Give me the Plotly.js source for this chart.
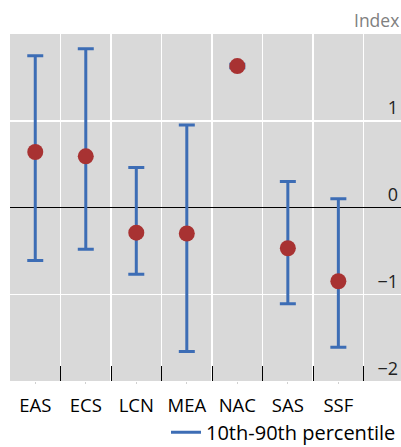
<!DOCTYPE html>
<html>
<head>
<meta charset="utf-8">
<script src="https://cdn.plot.ly/plotly-3.0.1.min.js"></script>
<style>
html,body{margin:0;padding:0;background:#fff;}
#chart{width:401px;height:447px;}
</style>
</head>
<body>
<div id="chart"></div>
<script>
const categories = ["EAS", "ECS", "LCN", "MEA", "NAC", "SAS", "SSF"];
const median = [0.64, 0.59, -0.29, -0.30, 1.63, -0.47, -0.85];
const p90 = [1.75, 1.83, 0.46, 0.95, 1.65, 0.30, 0.10];
const p10 = [-0.61, -0.48, -0.77, -1.66, 1.61, -1.11, -1.61];
const yTickVals = [-2, -1, 0, 1];
const yTickText = ["\u22122", "\u22121", "0", "1"];
const legendName = "10th-90th percentile";
const unitLabel = "Index";

const xPos = categories.map((c, i) => i);
const boundaries = [];
for (let i = 0; i <= categories.length; i++) boundaries.push(i - 0.5);

const blue = "#3d6db5";
const red = "#a83232";
const font = "Open Sans, Noto Sans, sans-serif";

const traces = [
  {
    x: xPos,
    y: median,
    type: "scatter",
    mode: "markers",
    marker: {color: red, size: 16},
    error_y: {
      type: "data",
      symmetric: false,
      array: p90.map((v, i) => v - median[i]),
      arrayminus: median.map((v, i) => v - p10[i]),
      color: blue,
      thickness: 3,
      width: 8
    },
    showlegend: false,
    hoverinfo: "skip"
  },
  {
    x: [null],
    y: [null],
    type: "scatter",
    mode: "lines",
    line: {color: blue, width: 3},
    name: legendName,
    xaxis: "x2"
  }
];

const layout = {
  width: 401,
  height: 447,
  margin: {l: 10, r: 0, t: 34, b: 66, autoexpand: false},
  paper_bgcolor: "#ffffff",
  plot_bgcolor: "#d9d9d9",
  font: {family: font, size: 16, color: "#000"},
  xaxis: {
    range: [-0.5, 7.24],
    tickmode: "array",
    tickvals: boundaries,
    ticktext: boundaries.map(() => ""),
    ticks: "inside",
    ticklen: 15,
    tickwidth: 1,
    tickcolor: "#000",
    showgrid: true,
    gridcolor: "#ffffff",
    gridwidth: 1.5,
    zeroline: false,
    showline: false,
    fixedrange: true
  },
  xaxis2: {
    overlaying: "x",
    matches: "x",
    side: "bottom",
    range: [-0.5, 7.24],
    tickmode: "array",
    tickvals: xPos,
    ticktext: categories,
    ticks: "outside",
    ticklen: 2,
    tickcolor: "#d0d0d0",
    ticklabelstandoff: 6,
    showgrid: false,
    zeroline: false,
    showline: false,
    tickfont: {family: font, size: 18.5, color: "#000"}
  },
  yaxis: {
    range: [-2, 2],
    side: "right",
    tickmode: "array",
    tickvals: yTickVals,
    ticktext: yTickText,
    ticklabelposition: "inside top",
    ticks: "",
    showgrid: true,
    gridcolor: "#ffffff",
    gridwidth: 1.5,
    zeroline: true,
    zerolinecolor: "#000000",
    zerolinewidth: 1.5,
    showline: false,
    tickfont: {family: font, size: 18, color: "#222"},
    fixedrange: true
  },
  showlegend: true,
  legend: {
    orientation: "h",
    x: 1,
    xanchor: "right",
    y: -0.148,
    yanchor: "middle",
    bgcolor: "rgba(0,0,0,0)",
    font: {family: font, size: 20, color: "#000"}
  },
  annotations: [
    {
      text: unitLabel,
      xref: "paper",
      yref: "paper",
      x: 1,
      y: 1,
      xanchor: "right",
      yanchor: "bottom",
      yshift: 0,
      showarrow: false,
      font: {family: font, size: 17.5, color: "#808080"}
    }
  ]
};

Plotly.newPlot("chart", traces, layout, {displayModeBar: false, staticPlot: true});
</script>
</body>
</html>
